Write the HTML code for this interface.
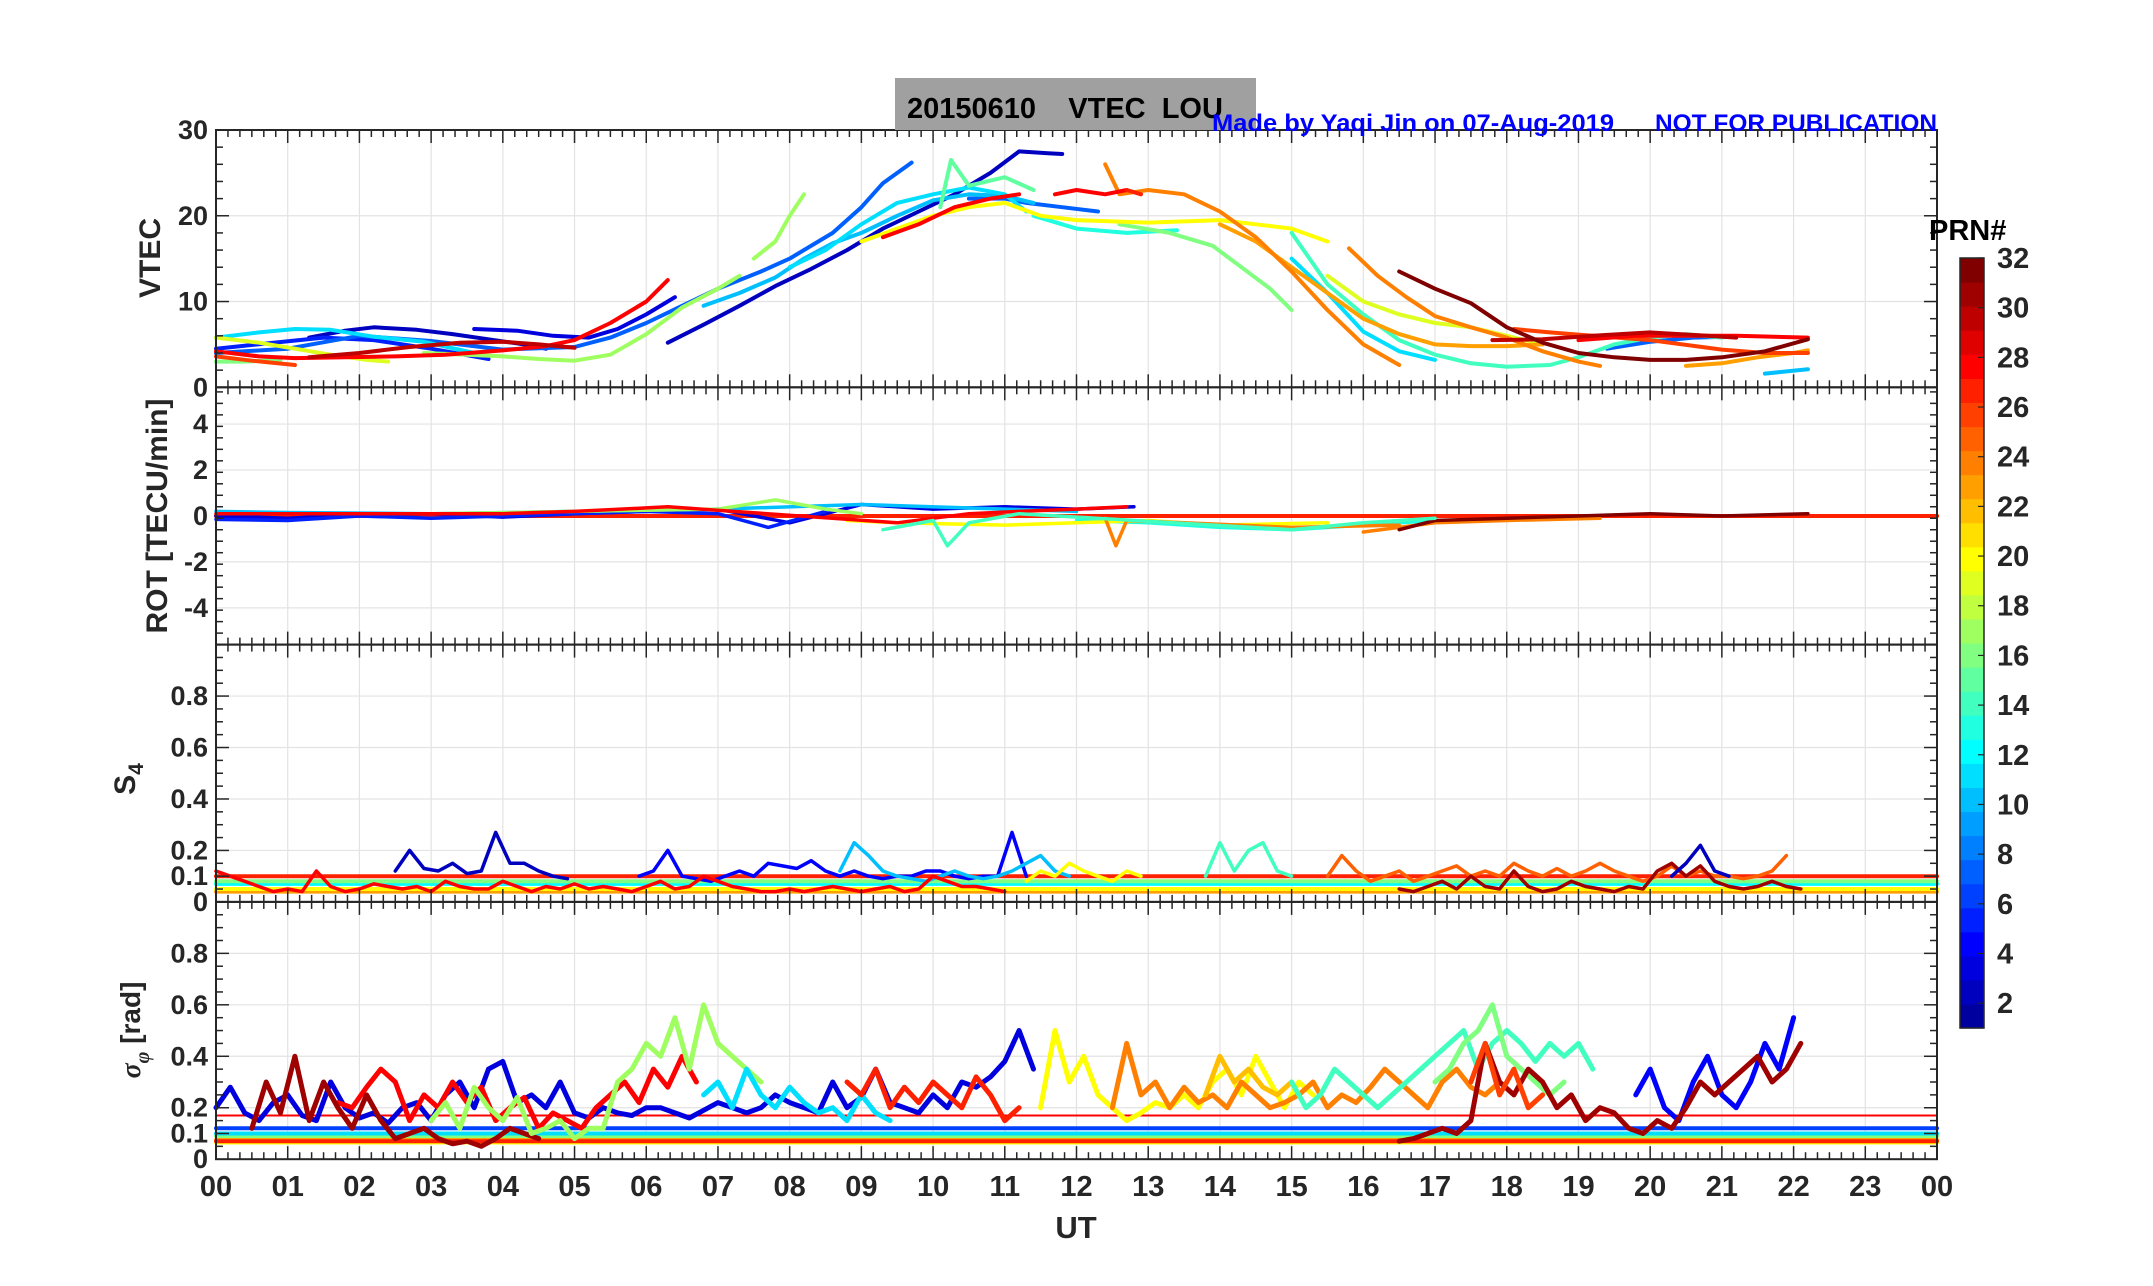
<!DOCTYPE html>
<html><head><meta charset="utf-8"><style>
html,body{margin:0;padding:0;background:#fff;}
svg{display:block;}
text{font-family:"Liberation Sans Narrow","Liberation Sans",sans-serif;font-weight:bold;}
</style></head><body>
<svg id="chart" width="2153" height="1286" viewBox="0 0 2153 1286" xmlns="http://www.w3.org/2000/svg">
<rect width="2153" height="1286" fill="#fff"/>
<g id="grid"></g><g id="series"></g><g id="axes"></g><g id="labels"></g>
<rect x="895" y="78" width="361" height="52" fill="#a0a0a0"/>
<text x="907" y="118" font-size="29" fill="#000" style="white-space:pre" xml:space="preserve">20150610    VTEC  LOU</text>
<text x="1212" y="131" font-size="24" fill="#0000ff" textLength="402" lengthAdjust="spacingAndGlyphs">Made by Yaqi Jin on 07-Aug-2019</text>
<text x="1655" y="131" font-size="24" fill="#0000ff" textLength="282" lengthAdjust="spacingAndGlyphs">NOT FOR PUBLICATION</text>
<g id="cbar"></g>
<text x="1929" y="240" font-size="29" fill="#000" font-family="Liberation Sans">PRN#</text>
</svg>
<script>
const NS="http://www.w3.org/2000/svg";
function mk(tag,attrs,parent){const e=document.createElementNS(NS,tag);for(const k in attrs)e.setAttribute(k,attrs[k]);parent.appendChild(e);return e;}
const X0=216,X1=1937,PH=257.3,PT=130;
const xs=h=>X0+h*(X1-X0)/24;
const panels=[{min:0,max:30},{min:-5.6,max:5.6},{min:0,max:1},{min:0,max:1}];
function ys(p,v){const top=PT+p*PH;return top+PH-(v-panels[p].min)/(panels[p].max-panels[p].min)*PH;}
function jet(i){const u=k=>k<1||k>23?0:(k<=8?k/8:(k<=15?1:(24-k)/8));
 const r=u(i-12),g=u(i-4),b=u(i+4);return `rgb(${Math.round(r*255)},${Math.round(g*255)},${Math.round(b*255)})`;}

// ---- tick data ----
const xTickLabels=["00","01","02","03","04","05","06","07","08","09","10","11","12","13","14","15","16","17","18","19","20","21","22","23","00"];
const vtecTicks=[0,10,20,30];
const rotTicks=[-4,-2,0,2,4];
const s4Ticks=[0,0.1,0.2,0.4,0.6,0.8];
const sigTicks=[0,0.1,0.2,0.4,0.6,0.8];
const sigTickLabels=["0","0.1","0.2","0.4","0.6","0.8"];

// ---- VTEC data: [hour, TECU] per PRN pass ----
const vtecPRN=[2,2,3,5,7,7,7,10,10,11,11,11,13,14,15,16,17,17,19,20,23,23,24,24,26,28,28,28,27,30,30,32];
const vtecPass=[
[[1.3,5.8],[1.8,6.6],[2.2,7.0],[2.8,6.7],[3.3,6.2],[3.8,5.6],[4.3,5.0],[4.6,4.5]],
[[6.3,5.2],[6.8,7.3],[7.3,9.5],[7.8,11.8],[8.3,13.8],[8.8,16],[9.3,18.5],[9.8,20.5],[10.3,22.5],[10.8,25],[11.2,27.5],[11.6,27.3],[11.8,27.2]],
[[3.6,6.8],[4.2,6.6],[4.7,6.0],[5.2,5.8],[5.6,6.8],[6.0,8.5],[6.4,10.5]],
[[0.0,4.5],[0.8,5.2],[1.5,5.8],[2.2,5.5],[3.0,4.5],[3.8,3.3]],
[[0.0,4.0],[1.0,4.5],[2.0,6.0],[3.0,5.4],[4.0,4.4],[5.0,4.7],[5.5,5.8],[6.0,7.5],[6.5,9.5],[7.0,11.5],[7.6,13.5],[8.0,15.0],[8.6,18.0],[9.0,21.0],[9.3,23.8],[9.7,26.2]],
[[10.5,22.0],[11.0,22.0],[11.3,21.5],[11.8,21.0],[12.3,20.5]],
[[19.4,4.5],[20.0,5.3],[20.6,5.8],[21.1,5.9]],
[[6.8,9.5],[7.3,11.0],[7.8,12.8],[8.2,15.0],[8.6,16.8],[9.0,18.0],[9.5,20.0],[10.0,21.8],[10.5,22.5],[11.0,22.3],[11.4,21.5]],
[[21.6,1.6],[22.2,2.1]],
[[0.0,5.8],[0.6,6.4],[1.1,6.8],[1.6,6.7],[2.2,5.9],[2.9,5.3],[3.6,4.0]],
[[8.0,14.0],[8.5,16.0],[9.0,19.0],[9.5,21.5],[10.0,22.5],[10.5,23.3],[11.0,22.5],[11.3,20.5]],
[[15.0,15.0],[15.5,11.0],[16.0,6.5],[16.5,4.2],[17.0,3.2]],
[[11.4,20.0],[12.0,18.5],[12.7,18.0],[13.4,18.3]],
[[15.0,18.0],[15.5,12.0],[16.0,8.5],[16.5,5.5],[17.0,3.8],[17.5,2.8],[18.0,2.4],[18.6,2.6],[19.0,3.5],[19.5,5.0],[20.0,5.8],[20.5,6.2],[21.0,5.8]],
[[10.1,21.0],[10.25,26.5],[10.5,23.5],[11.0,24.5],[11.4,23.0]],
[[0.0,3.0],[0.4,3.0],[0.9,3.2],[12.6,19.0],[13.3,18.0],[13.9,16.5],[14.3,14.0],[14.7,11.5],[15.0,9.0]],
[[2.9,4.0],[3.5,3.8],[4.0,3.6],[4.5,3.3],[5.0,3.1],[5.5,3.8],[6.0,6.2],[6.5,9.3],[7.0,11.5],[7.3,13.0]],
[[7.5,15.0],[7.8,17.0],[8.0,20.0],[8.2,22.5]],
[[0.0,5.8],[0.6,5.2],[1.1,4.5],[1.6,3.8],[2.1,3.2],[2.4,3.0],[15.5,13.0],[16.0,10.0],[16.5,8.5],[17.0,7.5],[17.5,7.0],[18.0,6.0],[18.5,5.0]],
[[9.0,17.0],[9.5,18.5],[10.0,20.0],[10.5,21.0],[11.0,21.5],[11.5,20.0],[12.0,19.5],[13.0,19.2],[14.0,19.5],[14.5,19.0],[15.0,18.5],[15.5,17.0]],
[[14.0,19.0],[14.5,17.0],[15.0,14.0],[15.5,11.0],[16.0,8.0],[16.5,6.2],[17.0,5.0],[17.5,4.8],[18.0,4.8],[18.5,5.0]],
[[20.5,2.5],[21.0,2.8],[21.5,3.5],[22.0,4.0],[22.2,4.3]],
[[12.4,26.0],[12.6,22.5],[13.0,23.0],[13.5,22.5],[14.0,20.5],[14.5,17.5],[15.0,13.5],[15.5,9.0],[16.0,5.0],[16.5,2.6]],
[[15.8,16.2],[16.2,13.0],[16.6,10.5],[17.0,8.3],[17.5,7.0],[18.0,5.8],[18.5,4.2],[19.0,3.0],[19.3,2.5]],
[[0.0,3.6],[0.5,3.1],[1.1,2.6],[18.1,6.8],[18.6,6.4],[19.2,6.0],[20.0,5.5],[21.0,4.4],[21.6,4.0],[22.2,4.0]],
[[0.0,4.2],[0.6,3.6],[1.1,3.4],[1.8,3.5],[2.5,3.6],[3.2,3.8],[4.0,4.3],[4.6,4.8],[5.0,5.5],[5.5,7.5],[6.0,10.0],[6.3,12.5]],
[[9.3,17.5],[9.8,19.0],[10.3,21.0],[10.8,22.0],[11.2,22.5]],
[[11.7,22.5],[12.0,23.0],[12.4,22.5],[12.7,23.0],[19.0,5.5],[19.8,6.0],[20.5,6.0],[21.2,6.0],[22.2,5.8]],
[[12.7,23.0],[12.9,22.5]],
[[1.3,3.5],[2.0,4.0],[2.7,4.7],[3.4,5.2],[4.0,5.3],[4.5,5.0],[5.0,4.6]],
[[17.8,5.5],[18.5,5.6],[19.2,6.0],[20.0,6.4],[20.8,6.0],[21.2,5.8]],
[[16.5,13.5],[17.0,11.5],[17.5,9.8],[18.0,7.0],[18.5,5.2],[19.0,4.0],[19.5,3.5],[20.0,3.2],[20.5,3.2],[21.0,3.5],[21.6,4.2],[22.2,5.6]]
];

// ---- ROT data [hour, TECU/min] ----
const rotPRN=[3,5,10,13,17,20,24,24,28,32,14];
const rotPass=[
[[0,0],[1,-0.1],[2,0.05],[3,0.1],[4,-0.05],[5,0.1],[6,0.2],[7,0.3],[8,-0.3],[9,0.5],[10,0.3],[11,0.4],[12,0.3],[12.8,0.4]],
[[0,-0.15],[1,-0.2],[2,0],[3,-0.1],[4,0],[5,0.1],[6,0.2],[7,0.1],[7.7,-0.5],[8.5,0.2]],
[[0,0.2],[1,0.15],[3,0.1],[5,0.2],[7,0.3],[9,0.5],[11,0.3],[12,0.2]],
[[12,-0.2],[13,-0.3],[14,-0.5],[15,-0.6],[16,-0.4],[17,-0.2]],
[[3,0.1],[5,0.2],[7,0.3],[7.8,0.7],[8.5,0.3],[9,0.1]],
[[8.8,-0.2],[9.5,-0.3],[11,-0.4],[12,-0.3],[13,-0.2],[14,-0.4],[15.5,-0.3]],
[[12.4,-0.1],[12.55,-1.3],[12.7,-0.2],[13.5,-0.3],[15,-0.5],[16.5,-0.4]],
[[16,-0.7],[17,-0.3],[18,-0.2],[19.3,-0.1]],
[[0,0.1],[2,0.1],[4,0.1],[5,0.2],[6,0.35],[6.3,0.4],[9.5,-0.3],[10.5,0.1],[11.2,0.2],[12,0.3],[12.7,0.4]],
[[16.5,-0.6],[17,-0.2],[18,-0.1],[19,0],[20,0.1],[21,0],[22.2,0.1]],
[[9.3,-0.6],[10,-0.2],[10.2,-1.3],[10.5,-0.3],[11.2,0.1],[15,-0.6],[16,-0.3],[17,-0.1]]
];

// ---- S4 data: start hour, step 0.2 h ----
const s4PRN=[2,4,10,14,28,25,31,20,2];
const s4Start=[2.5,5.9,8.7,13.8,0,15.5,16.5,11.3,20.3];
const s4Vals=[
[0.12,0.2,0.13,0.12,0.15,0.11,0.12,0.27,0.15,0.15,0.12,0.1,0.09],
[0.1,0.12,0.2,0.1,0.09,0.08,0.1,0.12,0.1,0.15,0.14,0.13,0.16,0.12,0.1,0.12,0.1,0.09,0.1,0.1,0.12,0.12,0.1,0.09,0.1,0.1,0.27,0.1],
[0.12,0.23,0.18,0.12,0.1,0.09,0.08,0.1,0.12,0.1,0.09,0.1,0.12,0.15,0.18,0.12,0.1],
[0.1,0.23,0.12,0.2,0.23,0.12,0.1],
[0.12,0.1,0.08,0.06,0.04,0.05,0.04,0.12,0.06,0.04,0.05,0.07,0.06,0.05,0.06,0.04,0.08,0.06,0.05,0.05,0.08,0.06,0.04,0.06,0.05,0.07,0.05,0.06,0.05,0.04,0.06,0.08,0.05,0.06,0.1,0.08,0.06,0.05,0.04,0.04,0.05,0.04,0.05,0.06,0.05,0.04,0.05,0.06,0.04,0.05,0.1,0.08,0.06,0.06,0.05,0.04],
[0.1,0.18,0.12,0.08,0.1,0.12,0.08,0.1,0.12,0.14,0.1,0.12,0.1,0.15,0.12,0.1,0.13,0.1,0.12,0.15,0.12,0.1,0.08,0.1,0.14,0.1,0.12,0.1,0.1,0.09,0.1,0.12,0.18],
[0.05,0.04,0.06,0.08,0.05,0.1,0.06,0.05,0.12,0.06,0.04,0.05,0.08,0.06,0.05,0.04,0.06,0.05,0.12,0.15,0.1,0.14,0.08,0.06,0.05,0.06,0.08,0.06,0.05],
[0.08,0.12,0.1,0.15,0.12,0.1,0.08,0.12,0.1],
[0.1,0.15,0.22,0.12,0.1]
];

// ---- sigma-phi data: start hour, step 0.2 h ----
const sigPRN=[3,28,31,17,11,27,20,24,22,14,16,4,31,26];
const sigStart=[0,1.7,0.5,3.0,6.8,8.8,11.5,12.5,13.8,15.0,17.0,19.8,16.5,17.5];
const sigVals=[
[0.2,0.28,0.18,0.15,0.22,0.25,0.17,0.15,0.3,0.2,0.16,0.18,0.14,0.2,0.22,0.15,0.25,0.3,0.2,0.35,0.38,0.22,0.25,0.2,0.3,0.18,0.16,0.2,0.18,0.17,0.2,0.2,0.18,0.16,0.19,0.22,0.2,0.18,0.2,0.25,0.22,0.2,0.18,0.3,0.2,0.24,0.35,0.22,0.2,0.18,0.25,0.2,0.3,0.28,0.32,0.38,0.5,0.35],
[0.22,0.2,0.28,0.35,0.3,0.15,0.25,0.2,0.3,0.22,0.28,0.15,0.2,0.24,0.12,0.18,0.15,0.12,0.2,0.25,0.3,0.22,0.35,0.28,0.4,0.3],
[0.12,0.3,0.18,0.4,0.15,0.3,0.2,0.12,0.25,0.15,0.08,0.1,0.12,0.08,0.06,0.07,0.05,0.08,0.12,0.1,0.08],
[0.15,0.22,0.12,0.28,0.2,0.15,0.24,0.1,0.12,0.15,0.08,0.12,0.12,0.3,0.35,0.45,0.4,0.55,0.35,0.6,0.45,0.4,0.35,0.3],
[0.25,0.3,0.2,0.35,0.25,0.2,0.28,0.22,0.18,0.2,0.15,0.25,0.18,0.15],
[0.3,0.25,0.35,0.2,0.28,0.22,0.3,0.25,0.2,0.32,0.25,0.15,0.2],
[0.2,0.5,0.3,0.4,0.25,0.2,0.15,0.18,0.22,0.2,0.25,0.2,0.3,0.35,0.25,0.4,0.3,0.2,0.3,0.25],
[0.2,0.45,0.25,0.3,0.2,0.28,0.22,0.25,0.2,0.3,0.25,0.2,0.22,0.25,0.3,0.2,0.25,0.22,0.28,0.35,0.3,0.25,0.2,0.3,0.35,0.28,0.25,0.3],
[0.25,0.4,0.3,0.35,0.28,0.25,0.3],
[0.3,0.2,0.25,0.35,0.3,0.25,0.2,0.25,0.3,0.35,0.4,0.45,0.5,0.35,0.45,0.5,0.45,0.38,0.45,0.4,0.45,0.35],
[0.3,0.35,0.45,0.5,0.6,0.4,0.35,0.3,0.25,0.3],
[0.25,0.35,0.2,0.15,0.3,0.4,0.25,0.2,0.3,0.45,0.35,0.55],
[0.07,0.08,0.1,0.12,0.1,0.15,0.45,0.3,0.25,0.35,0.3,0.2,0.25,0.15,0.2,0.18,0.12,0.1,0.15,0.12,0.2,0.3,0.25,0.3,0.35,0.4,0.3,0.35,0.45],
[0.3,0.45,0.25,0.35,0.2,0.25]
];

// ---- constant baselines spanning the day: [PRN, value] ----
const s4BasePRN=[23,20,12,16,27];
const s4BaseVal=[0.04,0.05,0.07,0.08,0.1];
const sigBasePRN=[20,23,27,16,11,6,28];
const sigBaseVal=[0.065,0.075,0.07,0.09,0.1,0.12,0.17];
const rotBasePRN=[24,27];
const rotBaseVal=[0,0];

const grid=document.getElementById('grid'),ser=document.getElementById('series'),axes=document.getElementById('axes'),lab=document.getElementById('labels');

const pTicks=[vtecTicks,rotTicks,s4Ticks,sigTicks];
for(let p=0;p<4;p++){
 const top=PT+p*PH;
 for(let h=1;h<24;h++){const l=mk('line',{x1:xs(h),x2:xs(h),y1:top,y2:top+PH,stroke:'#e3e3e3','stroke-width':1.2},grid);
  
  }
 pTicks[p].forEach(v=>{const y=ys(p,v);if(y>top+1&&y<top+PH-1){const l=mk('line',{x1:X0,x2:X1,y1:y,y2:y,stroke:'#e3e3e3','stroke-width':1.2},grid);
  
  }});
}
function pathFrom(p,pts){return pts.map((q,i)=>(i?'L':'M')+xs(q[0]).toFixed(1)+','+ys(p,q[1]).toFixed(1)).join('');}
function drawLine(p,pts,prn,w,name){const e=mk('path',{d:pathFrom(p,pts),fill:'none',stroke:jet(prn),'stroke-width':w,'stroke-linejoin':'round','stroke-linecap':'round'},ser);
 
 }
function splitPass(pass){const out=[[]];pass.forEach((q,i)=>{if(i&&q[0]-pass[i-1][0]>2.5)out.push([]);out[out.length-1].push(q);});return out;}

s4BasePRN.forEach((prn,i)=>drawLine(2,[[0,s4BaseVal[i]],[24,s4BaseVal[i]]],prn,4,'s4-baseline'));
sigBasePRN.forEach((prn,i)=>drawLine(3,[[0,sigBaseVal[i]],[24,sigBaseVal[i]]],prn,i==6?2:4,'sigma-baseline'));
rotBasePRN.forEach((prn,i)=>drawLine(1,[[0,rotBaseVal[i]],[24,rotBaseVal[i]]],prn,4,'rot-baseline'));
vtecPass.forEach((pass,i)=>splitPass(pass).forEach(seg=>drawLine(0,seg,vtecPRN[i],4,'vtec-prn'+vtecPRN[i])));
rotPass.forEach((pass,i)=>drawLine(1,pass,rotPRN[i],3.5,'rot-prn'+rotPRN[i]));
s4Vals.forEach((vals,i)=>drawLine(2,vals.map((v,k)=>[s4Start[i]+k*0.2,v]),s4PRN[i],3.5,'s4-prn'+s4PRN[i]));
sigVals.forEach((vals,i)=>drawLine(3,vals.map((v,k)=>[sigStart[i]+k*0.2,v]),sigPRN[i],5,'sigma-prn'+sigPRN[i]));

const yMinor=[2,0.5,0.05,0.05];
const yTickLabelSets=[vtecTicks.map(String),rotTicks.map(String),["0","0.1","0.2","0.4","0.6","0.8"],sigTickLabels];
for(let p=0;p<4;p++){
 const top=PT+p*PH,bot=top+PH;
 const b=mk('rect',{x:X0,y:top,width:X1-X0,height:PH,fill:'none',stroke:'#262626','stroke-width':2},axes);
 
 
 for(let m=0;m<=144;m++){const x=xs(m/6);const L=m%6==0?13:7;
  mk('line',{x1:x,x2:x,y1:top,y2:top+L,stroke:'#262626','stroke-width':1.5},axes);
  mk('line',{x1:x,x2:x,y1:bot,y2:bot-L,stroke:'#262626','stroke-width':1.5},axes);}
 const pm=panels[p];
 for(let v=pm.min;v<=pm.max+1e-9;v+=yMinor[p]){const y=ys(p,v);const major=pTicks[p].some(t=>Math.abs(t-v)<1e-6);const L=major?13:7;
  mk('line',{x1:X0,x2:X0+L,y1:y,y2:y,stroke:'#262626','stroke-width':1.5},axes);
  mk('line',{x1:X1,x2:X1-L,y1:y,y2:y,stroke:'#262626','stroke-width':1.5},axes);}
 pTicks[p].forEach((v,i)=>{const t=mk('text',{x:X0-8,y:ys(p,v)+9,'text-anchor':'end','font-size':27,fill:'#262626'},lab);t.textContent=yTickLabelSets[p][i];
  
  });
}
xTickLabels.forEach((s,i)=>{const t=mk('text',{x:xs(i),y:1196,'text-anchor':'middle','font-size':29,fill:'#262626'},lab);t.textContent=s;
 
 });
function ylab(txt,x,y,name){const t=mk('text',{x:x,y:y,'text-anchor':'middle','font-size':30,fill:'#262626',transform:`rotate(-90 ${x} ${y})`,'font-family':'Liberation Sans'},lab);t.textContent=txt;
 
 return t;}
ylab('VTEC',160,258,'vtec-axis-title');
ylab('ROT [TECU/min]',167,516,'rot-axis-title');
const s4t=ylab('S',135,779,'s4-axis-title');
const sub=mk('tspan',{'font-size':21,dy:8},s4t);sub.textContent='4';
const sg=mk('text',{x:140,y:1030,'text-anchor':'middle','font-size':28,fill:'#262626',transform:'rotate(-90 140 1030)','font-family':'Liberation Sans'},lab);


const t1=mk('tspan',{'font-style':'italic','font-family':'Liberation Serif'},sg);t1.textContent='σ';
const t2=mk('tspan',{'font-size':20,dy:9,'font-style':'italic','font-family':'Liberation Serif'},sg);t2.textContent='φ';
const t3=mk('tspan',{dy:-9},sg);t3.textContent=' [rad]';
const ut=mk('text',{x:1076,y:1238,'text-anchor':'middle','font-size':31,fill:'#262626','font-family':'Liberation Sans'},lab);ut.textContent='UT';



const cb=document.getElementById('cbar');const CT=258,CB=1028,CX=1960,CW=24;
const cbTicks=[2,4,6,8,10,12,14,16,18,20,22,24,26,28,30,32];
const cy=v=>CB-(v-1)/31*(CB-CT);
for(let i=1;i<=32;i++){const y0=CB-(i)*(CB-CT)/32;const r=mk('rect',{x:CX,y:y0,width:CW,height:(CB-CT)/32+0.6,fill:jet(i)},cb);
 
 }
mk('rect',{x:CX,y:CT,width:CW,height:CB-CT,fill:'none',stroke:'#262626','stroke-width':1.5},cb);
cbTicks.forEach(v=>{const y=cy(v);mk('line',{x1:CX+CW-6,x2:CX+CW,y1:y,y2:y,stroke:'#262626','stroke-width':1.2},cb);
 const t=mk('text',{x:1997,y:y+10,'font-size':29,fill:'#262626','font-family':'Liberation Sans'},cb);t.textContent=v;
 
 });
</script>
</body></html>
